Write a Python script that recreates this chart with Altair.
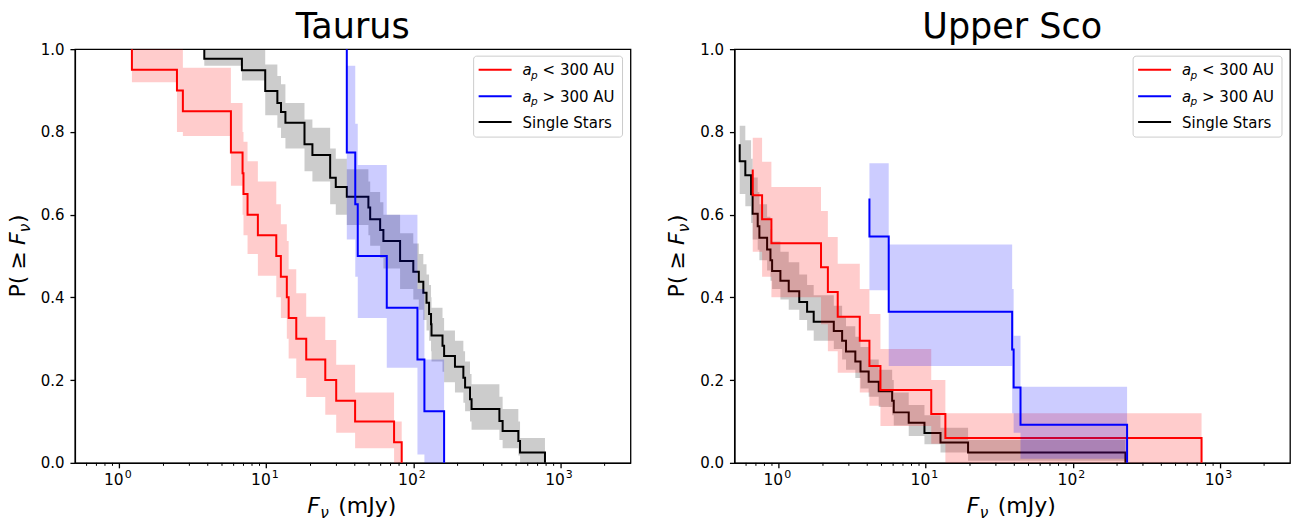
import altair as alt
import pandas as pd

# ---------------- data ----------------
X_DOMAIN = [0.5, 3000]
MAJOR_TICKS = [1, 10, 100, 1000]
MAJOR_EXPONENTS = ["0", "1", "2", "3"]
MINOR_TICKS = [0.6, 0.7, 0.8, 0.9, 2, 3, 4, 5, 6, 7, 8, 9, 20, 30, 40, 50, 60, 70, 80, 90,
               200, 300, 400, 500, 600, 700, 800, 900, 2000]
Y_TICKS = [0.0, 0.2, 0.4, 0.6, 0.8, 1.0]
PANEL_TITLES = ["Taurus", "Upper Sco"]
LEGEND_LABELS = ["< 300 AU", "> 300 AU", "Single Stars"]
SERIES_COLORS = {"red": "#ff0000", "blue": "#0000ff", "black": "#000000"}

# Taurus, a_p < 300 AU
tau_red_x = [1.22, 1.22, 2.47, 2.71, 5.75, 6.9, 7.0, 7.46, 8.77, 11.7, 12.57, 13.8, 14.2, 16.0,
             18.7, 25.2, 29.9, 40.2, 74.0, 83.4]
tau_red_y = [1.0, 0.95, 0.90, 0.85, 0.75, 0.70, 0.65, 0.60, 0.55, 0.50, 0.45, 0.40, 0.35, 0.30,
             0.25, 0.20, 0.15, 0.10, 0.05, 0.0]
tau_red_lo = [0.92, 0.80, 0.79, 0.67, 0.60, 0.55, 0.505, 0.452, 0.40, 0.35, 0.30, 0.252, 0.205,
              0.159, 0.116, 0.073, 0.035, 0.0]
tau_red_hi = [1.0, 1.0, 0.955, 0.87, 0.80, 0.776, 0.729, 0.68, 0.625, 0.577, 0.536, 0.468, 0.41,
              0.353, 0.297, 0.237, 0.17, 0.10]

# Taurus, a_p > 300 AU
tau_blue_x = [35.3, 35.3, 40.3, 41.9, 66.0, 106.7, 119.0, 162.0]
tau_blue_y = [1.0, 0.75, 0.625, 0.50, 0.375, 0.25, 0.125, 0.0]
tau_blue_lo = [0.54, 0.45, 0.35, 0.23, 0.02, 0.0]
tau_blue_hi = [0.96, 0.82, 0.72, 0.60, 0.42, 0.25]

# Taurus, single stars
tau_blk_x = [3.79, 3.79, 6.83, 9.84, 11.9, 12.6, 13.5, 18.2, 20.6, 27.2, 29.7, 35.3, 49.5, 50.9,
             59.5, 62.6, 81.3, 100, 109, 117, 123, 128, 132, 133, 158, 162, 192, 219, 225, 243,
             249, 385, 405, 518, 532, 786]
tau_blk_y = [1.0, 0.977, 0.949, 0.899, 0.870, 0.848, 0.822, 0.770, 0.744, 0.689, 0.667, 0.643,
             0.617, 0.589, 0.563, 0.536, 0.488, 0.462, 0.438, 0.411, 0.387, 0.360, 0.335, 0.308,
             0.283, 0.258, 0.232, 0.206, 0.182, 0.154, 0.130, 0.101, 0.077, 0.053, 0.025, 0.0]
tau_blk_lo = [0.96, 0.924, 0.84, 0.81, 0.785, 0.76, 0.705, 0.68, 0.625, 0.60, 0.575, 0.55, 0.525,
              0.495, 0.47, 0.42, 0.395, 0.37, 0.345, 0.32, 0.295, 0.27, 0.245, 0.22, 0.195, 0.17,
              0.145, 0.125, 0.10, 0.08, 0.055, 0.035, 0.018, 0.0]
tau_blk_hi = [1.0, 1.0, 0.963, 0.935, 0.915, 0.87, 0.83, 0.81, 0.76, 0.735, 0.71, 0.68, 0.655,
              0.63, 0.60, 0.555, 0.53, 0.505, 0.48, 0.455, 0.43, 0.40, 0.375, 0.35, 0.32, 0.295,
              0.27, 0.245, 0.215, 0.19, 0.16, 0.13, 0.10, 0.06]

# Upper Sco, a_p < 300 AU
usc_red_x = [0.666, 0.666, 0.771, 0.892, 1.94, 2.16, 2.52, 3.56, 4.14, 4.92, 10.9, 13.6, 751]
usc_red_y = [0.709, 0.647, 0.589, 0.531, 0.473, 0.413, 0.353, 0.295, 0.234, 0.176, 0.118, 0.060, 0.0]
usc_red_lo = [0.51, 0.45, 0.40, 0.335, 0.27, 0.218, 0.17, 0.138, 0.089, 0.046, 0.0]
usc_red_hi = [0.786, 0.728, 0.667, 0.609, 0.546, 0.481, 0.42, 0.36, 0.275, 0.2, 0.12]

# Upper Sco, a_p > 300 AU
usc_blue_x = [4.14, 4.14, 5.6, 38.7, 39.6, 44.1, 234]
usc_blue_y = [0.639, 0.547, 0.365, 0.274, 0.182, 0.092, 0.0]
usc_blue_lo = [0.417, 0.234, 0.12, 0.073, 0.01]
usc_blue_hi = [0.724, 0.528, 0.42, 0.307, 0.184]

# Upper Sco, single stars
usc_blk_x = [0.543, 0.543, 0.593, 0.649, 0.665, 0.72, 0.739, 0.834, 0.879, 0.902, 1.027, 1.17,
             1.38, 1.56, 1.73, 2.37, 2.70, 2.87, 3.32, 3.60, 4.09, 4.79, 5.91, 6.06, 7.66, 9.80,
             12.6, 19.4, 228]
usc_blk_y = [0.770, 0.729, 0.695, 0.649, 0.602, 0.572, 0.544, 0.516, 0.490, 0.464, 0.440, 0.415,
             0.389, 0.365, 0.341, 0.319, 0.295, 0.269, 0.245, 0.221, 0.196, 0.173, 0.150, 0.122,
             0.097, 0.072, 0.049, 0.025, 0.0]
usc_blk_lo = [0.65, 0.62, 0.58, 0.54, 0.515, 0.49, 0.465, 0.44, 0.42, 0.395, 0.37, 0.345, 0.32,
              0.295, 0.275, 0.25, 0.225, 0.205, 0.18, 0.16, 0.135, 0.115, 0.09, 0.065, 0.045,
              0.025, 0.005]
usc_blk_hi = [0.815, 0.78, 0.735, 0.69, 0.655, 0.625, 0.595, 0.565, 0.535, 0.51, 0.485, 0.455,
              0.43, 0.405, 0.38, 0.355, 0.33, 0.305, 0.28, 0.25, 0.225, 0.2, 0.17, 0.14, 0.115,
              0.085, 0.055]

# ---------------- layout ----------------
W, H = 556, 414
FONT = "DejaVu Sans"


def line_df(xs, ys):
    return pd.DataFrame({"x": xs, "y": ys, "i": list(range(len(xs)))})


def band_df(xs, lo, hi):
    # band segments start at every step of the line, the last one ends at the final drop
    starts = xs[1:-1]
    bx = list(starts) + [xs[-1]]
    return pd.DataFrame({"x": bx, "lo": list(lo) + [lo[-1]], "hi": list(hi) + [hi[-1]]})


xscale = alt.Scale(type="log", domain=X_DOMAIN, nice=False)
yscale = alt.Scale(domain=[0, 1], nice=False, zero=False)

x_axis = alt.Axis(values=MAJOR_TICKS, labels=False, title=None, grid=False,
                  tickSize=5, tickWidth=1.3, domainColor="black", domainWidth=1.3)
y_axis = alt.Axis(values=Y_TICKS, format=".1f", title=None, grid=False, tickSize=5,
                  tickWidth=1.3, labelPadding=6, labelFontSize=15, domainColor="black",
                  domainWidth=1.3)

one = pd.DataFrame({"k": [0]})
tick_labels = pd.DataFrame({"x": MAJOR_TICKS, "base": ["10"] * len(MAJOR_TICKS),
                            "exp": MAJOR_EXPONENTS})


def txt(text, x, y, size, style="normal", angle=0, align="left"):
    return alt.Chart(one).mark_text(text=text, fontSize=size, font=FONT, fontStyle=style,
                                    angle=angle, align=align, baseline="alphabetic",
                                    color="black").encode(x=alt.value(x), y=alt.value(y))


def panel(title, series):
    layers = []
    for name in ["black", "red", "blue"]:
        xs, ys, lo, hi = series[name]
        line = alt.Chart(line_df(xs, ys)).mark_line(
            interpolate="step-after", color=SERIES_COLORS[name], strokeWidth=2
        ).encode(x=alt.X("x:Q", scale=xscale, axis=x_axis),
                 y=alt.Y("y:Q", scale=yscale, axis=y_axis), order="i:Q")
        band = alt.Chart(band_df(xs, lo, hi)).mark_area(
            interpolate="step-after", color=SERIES_COLORS[name], opacity=0.2
        ).encode(x=alt.X("x:Q", scale=xscale, axis=x_axis),
                 y=alt.Y("lo:Q", scale=yscale, axis=y_axis), y2="hi:Q")
        layers += [line, band]

    # minor ticks of the log axis
    minor = alt.Chart(pd.DataFrame({"x": MINOR_TICKS})).mark_rule(
        color="black", strokeWidth=1).encode(
        x=alt.X("x:Q", scale=xscale, axis=x_axis), y=alt.value(H), y2=alt.value(H + 3))
    layers.append(minor)

    # x tick labels 10^k with a raised exponent
    base = alt.Chart(tick_labels).mark_text(fontSize=15.5, font=FONT, align="right",
                                            baseline="alphabetic", dx=4.5, color="black").encode(
        x=alt.X("x:Q", scale=xscale, axis=x_axis), y=alt.value(H + 22), text="base:N")
    expo = alt.Chart(tick_labels).mark_text(fontSize=11, font=FONT, align="left",
                                            baseline="alphabetic", dx=5.5, color="black").encode(
        x=alt.X("x:Q", scale=xscale, axis=x_axis), y=alt.value(H + 15), text="exp:N")
    layers += [base, expo]

    # legend
    box = alt.Chart(one).mark_rect(fill="white", fillOpacity=0.8, stroke="#cccccc",
                                   strokeWidth=1, cornerRadius=3).encode(
        x=alt.value(399), x2=alt.value(548), y=alt.value(7), y2=alt.value(88))
    layers.append(box)
    rows = [20.5, 47, 73]
    for r, name, lab in zip(rows, ["red", "blue", "black"], LEGEND_LABELS):
        layers.append(alt.Chart(one).mark_rule(color=SERIES_COLORS[name], strokeWidth=2).encode(
            x=alt.value(404), x2=alt.value(437), y=alt.value(r)))
        if name == "black":
            layers.append(txt(lab, 448, r + 5.5, 15))
        else:
            layers.append(txt("a", 448, r + 5.5, 15, "italic"))
            layers.append(txt("p", 456.5, r + 9, 10.5, "italic"))
            layers.append(txt(lab, 468, r + 5.5, 15))

    # panel title
    layers.append(txt(title, W / 2, -11, 35, align="center"))
    # x title: F_nu (mJy)
    layers.append(txt("F", 232.5, H + 50, 22, "italic"))
    layers.append(txt("ν", 245.5, H + 55, 15.4, "italic"))
    layers.append(txt("(mJy)", 263.5, H + 50, 22))
    # y title: P(>= F_nu), rotated
    yb = -50
    layers.append(txt("P(", yb, 248.5, 22, angle=270))
    layers.append(txt("≥", yb, 220.5, 22, angle=270))
    layers.append(txt("F", yb, 196, 22, "italic", angle=270))
    layers.append(txt("ν", yb + 5, 183.2, 15.4, "italic", angle=270))
    layers.append(txt(")", yb, 174, 22, angle=270))

    return alt.layer(*layers).properties(width=W, height=H)


left = panel(PANEL_TITLES[0], {
    "black": (tau_blk_x, tau_blk_y, tau_blk_lo, tau_blk_hi),
    "red": (tau_red_x, tau_red_y, tau_red_lo, tau_red_hi),
    "blue": (tau_blue_x, tau_blue_y, tau_blue_lo, tau_blue_hi),
})
right = panel(PANEL_TITLES[1], {
    "black": (usc_blk_x, usc_blk_y, usc_blk_lo, usc_blk_hi),
    "red": (usc_red_x, usc_red_y, usc_red_lo, usc_red_hi),
    "blue": (usc_blue_x, usc_blue_y, usc_blue_lo, usc_blue_hi),
})

chart = alt.hconcat(left, right, spacing=34).properties(
    padding={"left": 6, "top": 9, "right": 0, "bottom": 0}, background="white"
).configure(font=FONT).configure_view(stroke="black", strokeWidth=1.3).configure_axis(
    labelColor="black", tickColor="black", labelFont=FONT)

chart.save("out.html", embed_options={"renderer": "svg", "actions": False})
